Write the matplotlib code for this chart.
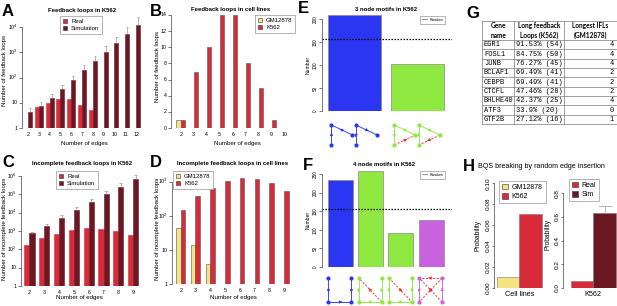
import matplotlib
matplotlib.use('Agg')
import matplotlib.pyplot as plt
import numpy as np
from matplotlib.patches import Patch, FancyArrowPatch
from matplotlib.lines import Line2D
from matplotlib.ticker import NullLocator

W, H = 617, 306
plt.rcParams['font.family'] = ['Liberation Sans', 'DejaVu Sans']
plt.rcParams['mathtext.default'] = 'regular'

# ---------------- data ----------------
edges_a = [2, 3, 4, 5, 6, 7, 8, 9, 10, 11, 12]
real_a = [1, 7, 10, 14, 14, 8, 5, 1, 0, 0, 0]
sim_a = [4.2, 7.7, 16, 35, 81, 190, 435, 980, 2300, 5400, 11700]
sim_a_err = [6.2, 10.5, 22, 51, 113, 300, 700, 1700, 4200, 10000, 25000]

edges_b = [2, 3, 4, 5, 6, 7, 8, 9, 10]
gm_b = [1, 0, 0, 0, 0, 0, 0, 0, 0]
k562_b = [1, 7, 10, 14, 14, 8, 5, 1, 0]

edges_c = [2, 3, 4, 5, 6, 7, 8, 9]
real_c = [170, 400, 710, 1130, 1400, 1340, 1040, 600]
sim_c = [750, 1950, 5300, 14600, 38000, 104000, 263000, 660000]
sim_c_err = [850, 2400, 7100, 19500, 53000, 145000, 433000, 1130000]

edges_d = [2, 3, 4, 5, 6, 7, 8, 9]
gm_d = [43, 14, 4, 0, 0, 0, 0, 0]
k562_d = [152, 375, 660, 1020, 1290, 1230, 935, 535]

motif3_counts = [209, 103]
random3 = 157
motif4_counts = [234, 258, 92, 127]
random4 = 156

genes = ['EGR1', 'FOSL1', 'JUNB', 'BCLAF1', 'CEBPB', 'CTCFL', 'BHLHE40', 'ATF3', 'GTF2B']
loop_pct = ['91.53%', '84.75%', '76.27%', '69.49%', '69.49%', '47.46%', '42.37%', '33.9%', '27.12%']
loop_cnt = [54, 50, 45, 41, 41, 28, 25, 20, 16]
longest_ifl = [4, 4, 4, 2, 2, 2, 4, 0, 1]

h_cells = ['GM12878', 'K562']
h_cell_prob = [0.010, 0.071]
h_k562 = ['Real', 'Sim']
h_k562_prob = [0.06, 0.63]
h_k562_err = 0.69

RED = '#D82B39'
DARK = '#6B1823'
YEL = '#F4E37E'
BLUE = '#2A36F2'
GREEN = '#8FE840'
PURPLE = '#C862DE'
DRED = '#E2312B'
DOT = (0, (1.2, 1.2))

fig = plt.figure(figsize=(W / 100, H / 100), dpi=100)


def add_ax(x0, y0, x1, y1):
    return fig.add_axes([x0 / W, 1 - y1 / H, (x1 - x0) / W, (y1 - y0) / H])


def r_axes(ax, ticks, labels, fs, rot=0, xpad=3, tl=2):
    for s in ('top', 'right', 'bottom'):
        ax.spines[s].set_visible(False)
    ax.spines['left'].set_bounds(ticks[0], ticks[-1])
    ax.spines['left'].set_linewidth(0.5)
    ax.spines['left'].set_color('#444444')
    ax.set_yticks(ticks)
    ax.set_yticklabels(labels, rotation=rot, va='center')
    ax.yaxis.set_minor_locator(NullLocator())
    ax.tick_params(axis='y', length=tl, width=0.5, pad=1, labelsize=fs, color='#444444')
    ax.tick_params(axis='x', length=0, pad=xpad, labelsize=fs)
    ax.patch.set_alpha(0)


def ftext(x, y, s, **kw):
    return fig.text(x / W, 1 - y / H, s, **kw)


def legend(ax, handles, labels, x, y, fs, **kw):
    opts = dict(loc='upper left', bbox_to_anchor=(x / W, 1 - y / H),
                bbox_transform=fig.transFigure, borderaxespad=0, fontsize=fs,
                handlelength=0.8, handleheight=0.8, handletextpad=0.6,
                borderpad=0.45, labelspacing=0.3, fancybox=False,
                edgecolor='#999999', framealpha=1)
    opts.update(kw)
    lg = ax.legend(handles, labels, **opts)
    lg.get_frame().set_linewidth(0.5)
    return lg


def sq(c):
    return Patch(facecolor=c, edgecolor='#333333', linewidth=0.4)


def err_up(ax, x, lo, hi, cw):
    ax.vlines(x, lo, hi, color='#9a9a9a', lw=0.5)
    ax.hlines(hi, np.asarray(x) - cw, np.asarray(x) + cw, color='#9a9a9a', lw=0.5)


def grouped_log(ax, a, b, w, ca, cb):
    xs = np.arange(len(b))
    a = np.asarray(a, float)
    b = np.asarray(b, float)
    m = a > 0
    ax.bar(xs[m] - w / 2, a[m] - 1, bottom=1, width=w, color=ca, edgecolor=ca, lw=0.4)
    m = b > 0
    ax.bar(xs[m] + w / 2, b[m] - 1, bottom=1, width=w, color=cb, edgecolor=cb, lw=0.4)
    return xs


# ---------------- A ----------------
axA = add_ax(22, 15, 142, 128)
axA.set_yscale('log')
xs = grouped_log(axA, real_a, sim_a, 0.37, RED, DARK)
err_up(axA, xs + 0.185, sim_a, sim_a_err, 0.12)
axA.set_ylim(1, 10 ** (113 / 25.25))
axA.set_xlim(-0.556, 10.556)
r_axes(axA, [1, 10, 100, 1000, 10000], ['1', '10', '$10^2$', '$10^3$', '$10^4$'], 3.8)
axA.set_xticks(xs, [str(e) for e in edges_a])
legend(axA, [sq(RED), sq(DARK)], ['Real', 'Simulation'], 60, 16, 4.3)

# ---------------- B ----------------
axB = add_ax(171, 15, 292, 128)
xb = np.arange(len(edges_b))
wb = 0.33
gmb = np.asarray(gm_b, float)
kb = np.asarray(k562_b, float)
axB.bar(xb[gmb > 0] - wb / 2, gmb[gmb > 0], width=wb, color=YEL, edgecolor='#555555', lw=0.4)
axB.bar(xb[kb > 0] + wb / 2, kb[kb > 0], width=wb, color=RED, edgecolor='#555555', lw=0.4)
axB.set_ylim(0, 14)
axB.set_xlim(-0.746, 8.56)
r_axes(axB, list(range(0, 15, 2)), [str(v) for v in range(0, 15, 2)], 3.8)
axB.set_xticks(xb, [str(e) for e in edges_b])
legend(axB, [sq(YEL), sq(RED)], ['GM12878', 'K562'], 255, 15, 4.3)

# ---------------- C ----------------
axC = add_ax(21, 170, 142, 286)
axC.set_yscale('log')
xc = grouped_log(axC, real_c, sim_c, 0.34, RED, DARK)
err_up(axC, xc + 0.17, sim_c, sim_c_err, 0.11)
axC.set_ylim(1, 10 ** (116 / 18.33))
axC.set_xlim(-0.574, 7.6)
r_axes(axC, [10 ** k for k in range(7)], ['1', '10'] + ['$10^%d$' % k for k in range(2, 7)], 3.8)
axC.set_xticks(xc, [str(e) for e in edges_c])
legend(axC, [sq(RED), sq(DARK)], ['Real', 'Simulation'], 56, 171, 4.3)

# ---------------- D ----------------
axD = add_ax(172, 172, 292, 284.3)
axD.set_yscale('log')
xd = np.arange(len(edges_d))
wd = 0.32
gd = np.asarray(gm_d, float)
kd = np.asarray(k562_d, float)
axD.bar(xd[gd > 0] - wd / 2, gd[gd > 0] - 1, bottom=1, width=wd, color=YEL, edgecolor='#555555', lw=0.4)
axD.bar(xd[kd > 0] + wd / 2, kd[kd > 0] - 1, bottom=1, width=wd, color=RED, edgecolor='#555555', lw=0.4)
axD.set_ylim(1, 10 ** ((284.3 - 172) / 34.2))
axD.set_xlim(-0.59, 7.54)
r_axes(axD, [1, 10, 100, 1000], ['1', '10', '$10^2$', '$10^3$'], 3.8)
axD.set_xticks(xd, [str(e) for e in edges_d])
legend(axD, [sq(YEL), sq(RED)], ['GM12878', 'K562'], 173, 171, 4.3)

# ---------------- E ----------------
axE = add_ax(322, 15, 452, 111)
xe = np.arange(len(motif3_counts))
axE.bar(xe, motif3_counts, width=0.84, color=[BLUE, GREEN], edgecolor='#8a8a8a', lw=0.5)
axE.axhline(random3, color='black', lw=0.9, ls=DOT)
axE.set_ylim(0, 209.3)
axE.set_xlim(-0.516, 1.55)
r_axes(axE, [0, 50, 100, 150, 200], ['0', '50', '100', '150', '200'], 3.3, rot=90)
axE.set_xticks([])
legend(axE, [Line2D([], [], color='black', lw=0.6, ls=DOT)], ['Random'],
       420, 16, 2.6, handlelength=1.6, borderpad=0.5)

# ---------------- F ----------------
axF = add_ax(322, 171, 452, 267)
xf = np.arange(len(motif4_counts))
axF.bar(xf, motif4_counts, width=0.83, color=[BLUE, GREEN, GREEN, PURPLE], edgecolor='#8a8a8a', lw=0.5)
axF.axhline(random4, color='black', lw=0.9, ls=DOT)
axF.set_ylim(0, 258)
axF.set_xlim(-0.61, 3.69)
r_axes(axF, [0, 50, 100, 150, 200, 250], ['0', '50', '100', '150', '200', '250'], 3.3, rot=90)
axF.set_xticks([])
legend(axF, [Line2D([], [], color='black', lw=0.6, ls=DOT)], ['Random'],
       420, 171, 2.6, handlelength=1.6, borderpad=0.5)

# ---------------- H ----------------
axH1 = add_ax(494, 183.3, 545, 287.7)
axH1.bar(np.arange(2), h_cell_prob, width=1.0, color=[YEL, RED], edgecolor='#777777', lw=0.4)
axH1.set_ylim(0, 0.1)
axH1.set_xlim(-0.61, 1.62)
r_axes(axH1, [0, 0.02, 0.04, 0.06, 0.08, 0.10], ['0.00', '0.02', '0.04', '0.06', '0.08', '0.10'],
       4.6, rot=90, tl=1.5)
axH1.set_xticks([])
legend(axH1, [sq(YEL), sq(RED)], h_cells, 499, 181, 5.0)

axH2 = add_ax(563.3, 183, 617, 287.7)
axH2.bar(np.arange(2), h_k562_prob, width=1.0, color=[RED, DARK], edgecolor='#777777', lw=0.4)
err_up(axH2, [1], [h_k562_prob[1]], [h_k562_err], 0.3)
axH2.set_ylim(0, (287.7 - 183) / 118)
axH2.set_xlim(-0.82, 1.54)
r_axes(axH2, [0, 0.2, 0.4, 0.6, 0.8], ['0.0', '0.2', '0.4', '0.6', '0.8'], 4.6, rot=90, tl=1.5)
axH2.set_xticks([])
legend(axH2, [sq(RED), sq(DARK)], h_k562, 569, 179, 5.0)

# ---------------- text ----------------
PL = dict(fontsize=12, fontweight='bold', va='baseline', ha='left')
for lab, x, y in [('A', 2, 16), ('B', 149.5, 16), ('C', 2, 167), ('D', 150, 167),
                  ('E', 298, 13), ('F', 303, 170), ('G', 466, 18), ('H', 463, 171)]:
    ftext(x, y, lab, **PL)

TT = dict(fontsize=4.3, fontweight='bold', ha='center', va='center')
ftext(81.7, 10.7, 'Feedback loops in K562', **TT)
ftext(231, 9.5, 'Feedback loops in cell lines', **TT)
ftext(82, 163.3, 'Incomplete feedback loops in K562', **TT)
ftext(233, 164, 'Incomplete feedback loops in cell lines', **TT)
ftext(386, 9.7, '3 node motifs in K562', **TT)
ftext(384, 165, '4 node motifs in K562', **TT)
ftext(478, 167, 'BQS breaking by random edge insertion', fontsize=5.1, ha='left', va='center')

XL = dict(fontsize=4.4, ha='center', va='center')
ftext(84, 144, 'Number of edges', **XL)
ftext(237, 144, 'Number of edges', **XL)
ftext(79, 297, 'Number of edges', **XL)
ftext(233, 297, 'Number of edges', **XL)
YL = dict(fontsize=4.4, ha='center', va='center', rotation=90)
ftext(5, 70, 'Number of feedback loops', **YL)
ftext(157, 66, 'Number of feedback loops', **YL)
ftext(5, 229, 'Number of incomplete feedback loops', **YL)
ftext(157, 229, 'Number of incomplete feedback loops', **YL)
ftext(308, 65, 'Number', fontsize=3.6, ha='center', va='center', rotation=90)
ftext(308, 220, 'Number', fontsize=3.6, ha='center', va='center', rotation=90)
ftext(478.5, 235, 'Probability', fontsize=4.8, ha='center', va='center', rotation=90)
ftext(548.5, 234, 'Probability', fontsize=4.8, ha='center', va='center', rotation=90)
ftext(519.5, 294, 'Cell lines', fontsize=5.2, ha='center', va='center')
ftext(593, 294, 'K562', fontsize=5.2, ha='center', va='center')

# ---------------- overlay (motifs + table) ----------------
ov = fig.add_axes([0, 0, 1, 1], zorder=5)
ov.set_xlim(0, W)
ov.set_ylim(H, 0)
ov.axis('off')
ov.patch.set_alpha(0)

NODES3 = [(0, 0), (0, 1), (1, 0.5)]
NODES4 = [(0, 0), (0, 1), (1, 0), (1, 1)]
motifs3 = [
    (BLUE, [[(1, 0, 's'), (2, 0, 's')], [(0, 2, 's'), (0, 1, 's')]]),
    (GREEN, [[(0, 1, 's'), (1, 2, 'd'), (0, 2, 's')], [(1, 0, 's'), (0, 2, 's'), (2, 1, 'd')]]),
]
motifs4 = [
    (BLUE, [(1, 0, 's'), (1, 3, 's'), (2, 3, 's')]),
    (GREEN, [(3, 0, 'd'), (0, 1, 's'), (1, 3, 's'), (2, 3, 's')]),
    (GREEN, [(1, 0, 's'), (0, 3, 'd'), (3, 1, 's'), (3, 2, 's')]),
    (PURPLE, [(0, 1, 's'), (3, 2, 's'), (2, 0, 'd'), (3, 0, 'd'), (2, 1, 'd')]),
]


def draw_motif(left, top, w, h, nodes, edges, color):
    pts = [(left + nx * w, top + ny * h) for nx, ny in nodes]
    for s, d, kind in edges:
        (x0, y0), (x1, y1) = pts[s], pts[d]
        if kind == 'd':
            c, ls = DRED, (0, (2.2, 1.5))
        else:
            c, ls = color, '-'
        ov.plot([x0, x1], [y0, y1], color=c, lw=0.7, ls=ls, solid_capstyle='butt', alpha=0.9)
        mx, my = (x0 + x1) / 2, (y0 + y1) / 2
        L = np.hypot(x1 - x0, y1 - y0)
        ux, uy = (x1 - x0) / L, (y1 - y0) / L
        ov.add_patch(FancyArrowPatch((mx - ux * 2, my - uy * 2), (mx + ux * 2.5, my + uy * 2.5),
                                     arrowstyle='-|>', mutation_scale=5, color=c, lw=0.3,
                                     shrinkA=0, shrinkB=0))
    for x, y in pts:
        ov.plot(x, y, 'o', ms=2.0, color=color, mec=color)


def px(ax, x):
    return ax.transData.transform((x, 0))[0]


for i, (col, mlist) in enumerate(motifs3):
    cx = px(axE, i)
    for j, edges in enumerate(mlist):
        left = cx - 23 if j == 0 else cx + 1.5
        draw_motif(left, 125, 21, 20, NODES3, edges, col)

for i, (col, edges) in enumerate(motifs4):
    cx = px(axF, i)
    draw_motif(cx - 12, 278, 23, 24, NODES4, edges, col)

# table G
xcol = [482, 514.3, 564.3, 616.5]
ytop, yhead, ybot = 20.7, 40, 124
nrow = len(genes)
rh = (ybot - yhead) / nrow
lc = dict(color='#7a7a7a', lw=0.5)
for x in xcol:
    ov.plot([x, x], [ytop, ybot], **lc)
ov.plot([xcol[0], xcol[-1]], [ytop, ytop], **lc)
for r in range(nrow + 1):
    y = yhead + r * rh
    ov.plot([xcol[0], xcol[-1]], [y, y], **lc)
HD = dict(fontsize=4.7, fontweight='bold', ha='center', va='center', family=['Lato', 'DejaVu Sans'],
          linespacing=1.45)
heads = ['Gene\nname', 'Long feedback\nLoops (K562)', 'Longest IFLs\n(GM12878)']
for k, htxt in enumerate(heads):
    ov.text((xcol[k] + xcol[k + 1]) / 2, (ytop + yhead) / 2, htxt, **HD)
MN = dict(fontsize=5.0, va='center', family=['Liberation Mono', 'DejaVu Sans Mono'])
for r in range(nrow):
    y = yhead + (r + 0.5) * rh
    ov.text(xcol[0] + 2, y, genes[r], ha='left', **MN)
    ov.text(xcol[1] + 2, y, '%s (%d)' % (loop_pct[r], loop_cnt[r]), ha='left', **MN)
    ov.text(xcol[3] - 2.5, y, str(longest_ifl[r]), ha='right', **MN)

fig.savefig('out.png', dpi=100)
